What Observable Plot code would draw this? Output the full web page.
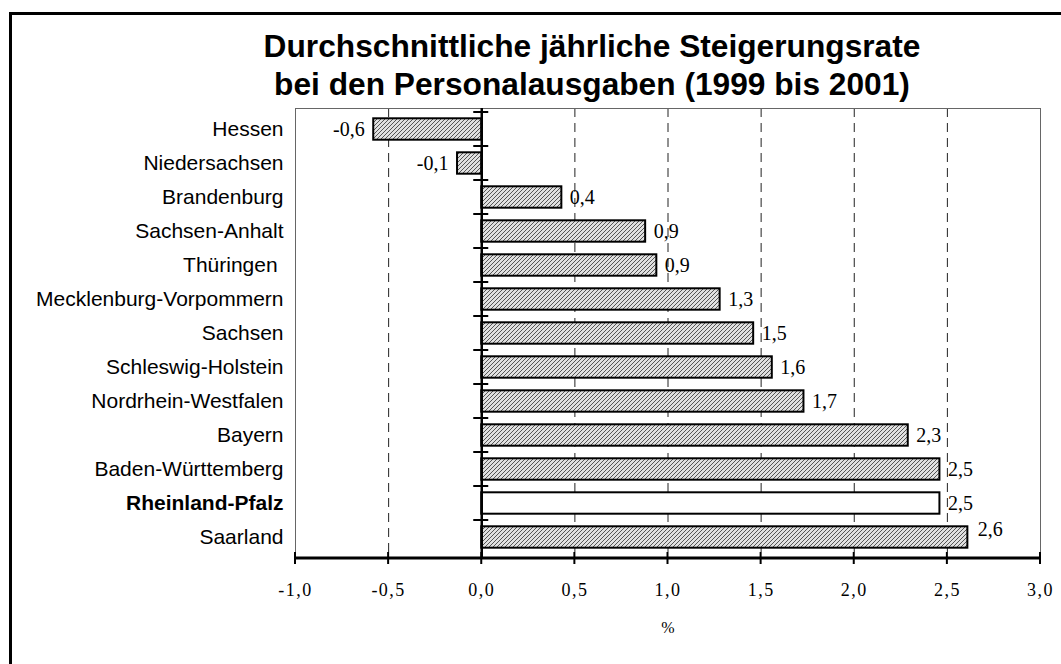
<!DOCTYPE html>
<html><head><meta charset="utf-8">
<script src="https://cdn.jsdelivr.net/npm/d3@7"></script>
<script src="https://cdn.jsdelivr.net/npm/@observablehq/plot@0.6"></script>
<style>
html,body{margin:0;padding:0;background:#fff;width:1061px;height:664px;overflow:hidden;}
#frame{position:absolute;left:9px;top:12px;width:1100px;height:700px;border-left:3px solid #000;border-top:3px solid #000;pointer-events:none;box-sizing:border-box;}
#title{position:absolute;left:92px;top:27px;width:1000px;text-align:center;font-family:"Liberation Sans",Arial,sans-serif;font-weight:bold;font-size:31.7px;line-height:38px;color:#000;}
#chart{position:absolute;left:0;top:96px;}
#chart g[aria-label="x-axis tick label"] text{letter-spacing:1.5px;}
#chart g[aria-label="value labels"] text{letter-spacing:1.5px;}
#chart g[aria-label="state labels"] text{letter-spacing:2.1px;}
</style></head><body>
<svg width="0" height="0" style="position:absolute">
  <defs>
    <pattern id="hatch" patternUnits="userSpaceOnUse" width="4" height="4">
      <rect width="4" height="4" fill="#e0e0e0"></rect>
      <path d="M-1,1 l2,-2 M0,4 l4,-4 M3,5 l2,-2" stroke="#555" stroke-width="1"></path>
    </pattern>
  </defs>
</svg>
<div id="frame"></div>
<div id="title">Durchschnittliche jährliche Steigerungsrate<br>bei den Personalausgaben (1999 bis 2001)</div>
<div id="chart"></div>
<script>
const states = ["Hessen","Niedersachsen","Brandenburg","Sachsen-Anhalt","Thüringen\u00a0","Mecklenburg-Vorpommern","Sachsen","Schleswig-Holstein","Nordrhein-Westfalen","Bayern","Baden-Württemberg","Rheinland-Pfalz","Saarland"];
const values = [-0.58,-0.13,0.43,0.88,0.94,1.28,1.46,1.56,1.73,2.29,2.46,2.46,2.61];
const valueLabels = ["-0,6","-0,1","0,4","0,9","0,9","1,3","1,5","1,6","1,7","2,3","2,5","2,5","2,6"];
const highlight = "Rheinland-Pfalz";
const xTicks = [-1,-0.5,0,0.5,1,1.5,2,2.5,3];
const xTickLabels = ["-1,0","-0,5","0,0","0,5","1,0","1,5","2,0","2,5","3,0"];
const gridTicks = [-0.5,0.5,1,1.5,2,2.5];
const xLabel = "%";

const rows = states.map((s,i)=>({state:s, value:values[i], label:valueLabels[i]}));
const last = states[states.length-1];
const sans = "'Liberation Sans', Arial, sans-serif";
const serif = "'Liberation Serif', 'Times New Roman', serif";

function axisLines(index, scales, values, dims) {
  const g = d3.create("svg:g").attr("stroke","#000").attr("fill","none");
  const yb = dims.height - dims.marginBottom;
  const xl = scales.x(xTicks[0]), xr = scales.x(xTicks[xTicks.length-1]);
  g.append("line").attr("x1",xl).attr("x2",xr).attr("y1",yb).attr("y2",yb).attr("stroke-width",3);
  for (const t of xTicks) {
    const x = scales.x(t);
    g.append("line").attr("x1",x).attr("x2",x).attr("y1",yb-6).attr("y2",yb+6).attr("stroke-width",2);
  }
  const x0 = scales.x(0);
  for (const s of states) {
    const y = scales.y(s);
    g.append("line").attr("x1",x0-8).attr("x2",x0+7).attr("y1",y).attr("y2",y).attr("stroke-width",2);
  }
  return g.node();
}

const chart = Plot.plot({
  width: 1061,
  height: 568,
  marginLeft: 295,
  marginRight: 21,
  marginTop: 12,
  marginBottom: 106,
  style: {background: "transparent", fontFamily: serif, overflow: "visible"},
  x: {domain: [-1, 3]},
  y: {domain: states, padding: 0, axis: null},
  marks: [
    Plot.ruleX(gridTicks, {stroke: "#222", strokeWidth: 1, strokeDasharray: "9,6"}),
    Plot.frame({stroke: "#666", strokeWidth: 1}),
    Plot.barX(rows.filter(d => d.state !== highlight), {x: "value", y: "state", fill: "url(#hatch)", stroke: "#000", strokeWidth: 2, insetTop: 6.3, insetBottom: 6.3}),
    Plot.barX(rows.filter(d => d.state === highlight), {x: "value", y: "state", fill: "#fff", stroke: "#000", strokeWidth: 2, insetTop: 6.3, insetBottom: 6.3}),
    Plot.ruleX([0], {stroke: "#000", strokeWidth: 2.5}),
    axisLines,
    Plot.axisX(xTicks, {tickSize: 0, tickPadding: 25, tickFormat: d => xTickLabels[xTicks.indexOf(d)], fontSize: 18, fontFamily: serif, label: null}),
    Plot.text([xLabel], {frameAnchor: "bottom", text: d => d, dy: 74, fontSize: 16, fontFamily: serif}),
    Plot.text(states.filter(s => s !== highlight), {y: d => d, text: d => d, frameAnchor: "left", textAnchor: "end", dx: -12, fontSize: 21, fontFamily: sans, ariaLabel: "state labels"}),
    Plot.text([highlight], {y: d => d, text: d => d, frameAnchor: "left", textAnchor: "end", dx: -12, fontSize: 21, fontFamily: sans, fontWeight: "bold", ariaLabel: "state labels"}),
    Plot.text(rows.filter(d => d.value < 0), {x: "value", y: "state", text: "label", textAnchor: "end", dx: -9, fontSize: 20, fontFamily: serif, ariaLabel: "value labels"}),
    Plot.text(rows.filter(d => d.value >= 0 && d.state !== last), {x: "value", y: "state", text: "label", textAnchor: "start", dx: 8, fontSize: 20, fontFamily: serif, ariaLabel: "value labels"}),
    Plot.text(rows.filter(d => d.state === last), {x: "value", y: "state", text: "label", textAnchor: "start", dx: 10, dy: -8, fontSize: 20, fontFamily: serif, ariaLabel: "value labels"})
  ]
});
document.getElementById("chart").appendChild(chart);
</script>
</body></html>
